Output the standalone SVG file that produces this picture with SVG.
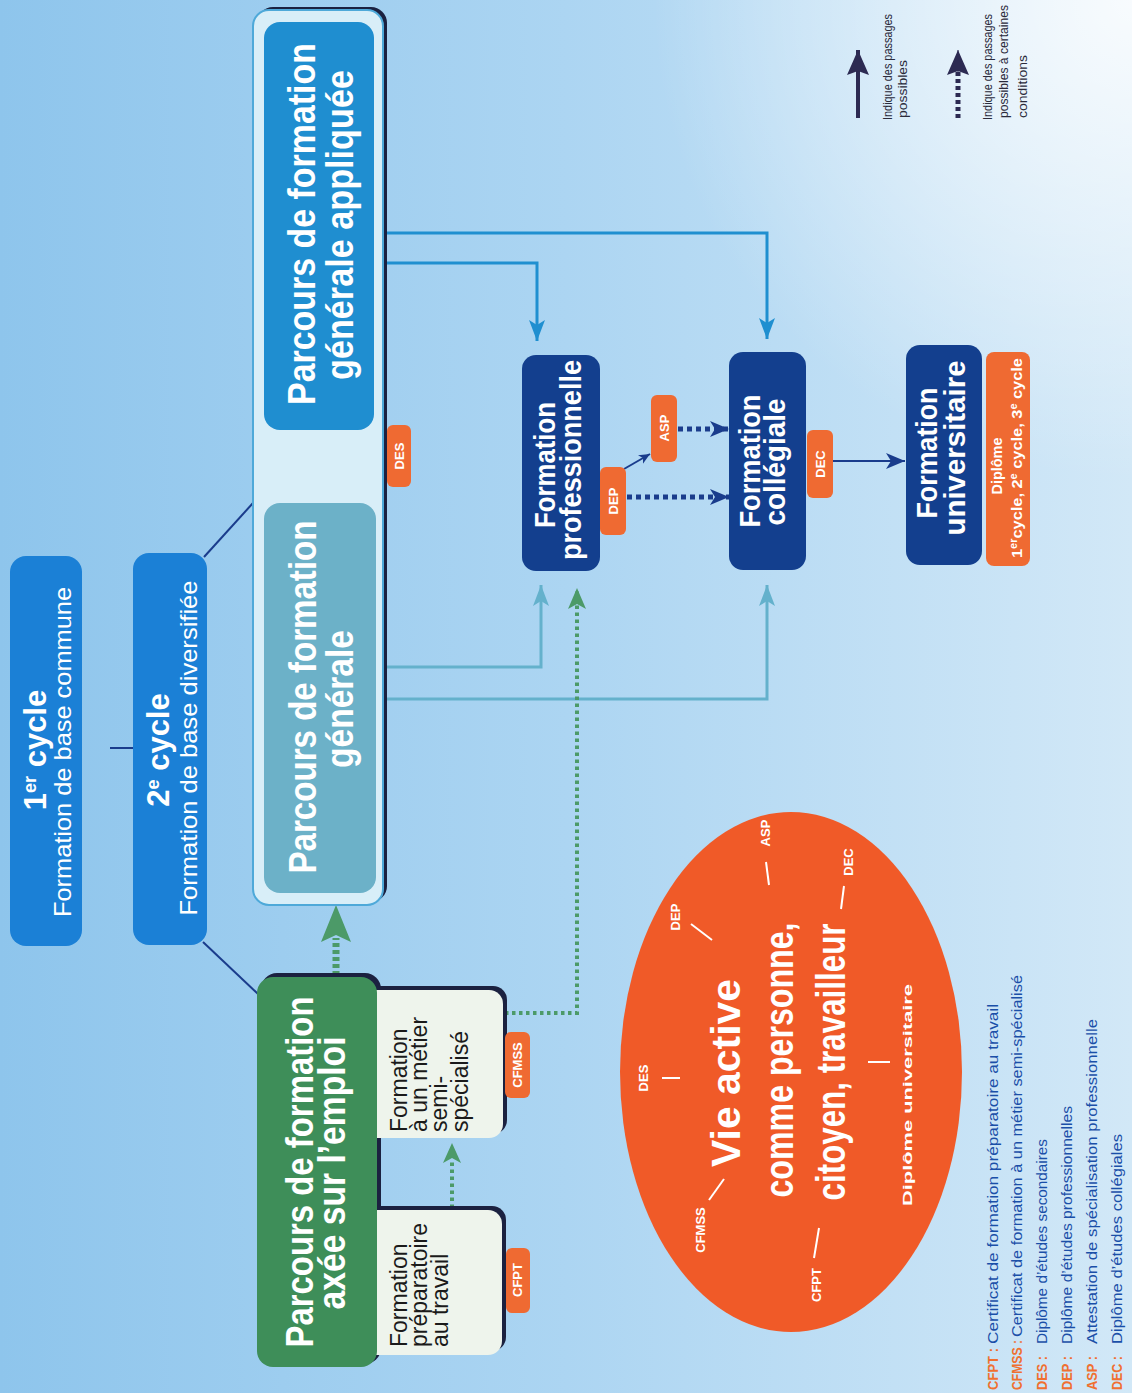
<svg xmlns="http://www.w3.org/2000/svg" width="1132" height="1393" viewBox="0 0 1132 1393">
<defs>
<linearGradient id="bg" x1="0" y1="0" x2="1" y2="0">
<stop offset="0" stop-color="#8ec5ec"/>
<stop offset="0.5" stop-color="#acd5f2"/>
<stop offset="1" stop-color="#d2e8f7"/>
</linearGradient>
<radialGradient id="hl" cx="1132" cy="0" r="480" gradientUnits="userSpaceOnUse">
<stop offset="0" stop-color="#ffffff" stop-opacity="0.85"/>
<stop offset="1" stop-color="#ffffff" stop-opacity="0"/>
</radialGradient>
<marker id="hBlue" markerWidth="22" markerHeight="16" refX="21" refY="8" orient="auto" markerUnits="userSpaceOnUse"><path d="M0,0 L21,8 L0,16 L5,8 Z" fill="#1f8fd0"/></marker>
<marker id="hTeal" markerWidth="22" markerHeight="16" refX="21" refY="8" orient="auto" markerUnits="userSpaceOnUse"><path d="M0,0 L21,8 L0,16 L5,8 Z" fill="#64b1cc"/></marker>
<marker id="hGreen" markerWidth="22" markerHeight="18" refX="21" refY="9" orient="auto" markerUnits="userSpaceOnUse"><path d="M0,0 L21,9 L0,18 L5,9 Z" fill="#4c9a68"/></marker>
<marker id="hNavy" markerWidth="20" markerHeight="16" refX="19" refY="8" orient="auto" markerUnits="userSpaceOnUse"><path d="M0,0 L19,8 L0,16 L5,8 Z" fill="#1a3c8c"/></marker>
<marker id="hNavyS" markerWidth="12" markerHeight="10" refX="11" refY="5" orient="auto" markerUnits="userSpaceOnUse"><path d="M0,0 L11,5 L0,10 L3,5 Z" fill="#1a3c8c"/></marker>
<marker id="hLeg" markerWidth="26" markerHeight="22" refX="25" refY="11" orient="auto" markerUnits="userSpaceOnUse"><path d="M0,0 L25,11 L0,22 L4,11 Z" fill="#2c2a52"/></marker>
<style>
.t{font-family:"Liberation Sans Narrow","Liberation Sans",Arial,sans-serif;}
.b{font-weight:bold;}
.w{fill:#ffffff;}
.m{text-anchor:middle;}
.cyc{fill:#1b80d6;}
.navy{fill:#133f8e;}
.badge{fill:#ef6a32;}
.bt{font-family:"Liberation Sans Narrow","Liberation Sans",Arial,sans-serif;font-weight:bold;font-size:13px;fill:#ffffff;text-anchor:middle;}
.shadow{fill:#1b2140;}
.sub{fill:#eef4ec;}
.st{font-family:"Liberation Sans Narrow","Liberation Sans",Arial,sans-serif;font-size:23px;fill:#1a1a1a;}
.ol{font-family:"Liberation Sans Narrow","Liberation Sans",Arial,sans-serif;font-weight:bold;font-size:13px;fill:#ffffff;text-anchor:middle;}
.tick{stroke:#ffffff;stroke-width:2;fill:none;}
.cBlue{stroke:#1f8fd0;stroke-width:3;fill:none;}
.cTeal{stroke:#64b1cc;stroke-width:3;fill:none;}
.cNavy{stroke:#1a3c8c;stroke-width:2;fill:none;}
.cGreenDot{stroke:#4c9a68;stroke-width:4;stroke-dasharray:3.5 3.5;fill:none;}
.cNavyDot{stroke:#1a3c8c;stroke-width:5;stroke-dasharray:5 4;fill:none;}
.lab{font-family:"Liberation Sans Narrow","Liberation Sans",Arial,sans-serif;font-weight:bold;font-size:15px;fill:#f07030;}
.desc{font-family:"Liberation Sans Narrow","Liberation Sans",Arial,sans-serif;font-size:15px;fill:#1a4fa8;}
.leg{font-family:"Liberation Sans Narrow","Liberation Sans",Arial,sans-serif;font-size:12.5px;fill:#2a2a3a;}
</style>
</defs>

<rect x="0" y="0" width="1132" height="1393" fill="url(#bg)"/>
<rect x="0" y="0" width="1132" height="1393" fill="url(#hl)"/>

<g id="connectors">
<path class="cNavy" d="M110 748 H133"/>
<path class="cNavy" d="M204 557 L253 503"/>
<path class="cNavy" d="M203 942 L258 994"/>
<path class="cBlue" d="M374 233 H767 V339" marker-end="url(#hBlue)"/>
<path class="cBlue" d="M374 263 H537 V341" marker-end="url(#hBlue)"/>
<path class="cTeal" d="M377 667 H541 V585" marker-end="url(#hTeal)"/>
<path class="cTeal" d="M377 699 H767 V585" marker-end="url(#hTeal)"/>
<rect x="316" y="452" width="7" height="51" fill="#7fbfd2"/>
<polygon points="319.5,430 331,463 319.5,456 308,463" fill="#7fbfd2"/>
<rect x="354" y="430" width="7" height="46" fill="#1f8fd0"/>
<polygon points="357.5,501 369,468 357.5,475 346,468" fill="#1f8fd0"/>
<path d="M336 975 V938" stroke="#4c9a68" stroke-width="7" stroke-dasharray="4 3" fill="none"/>
<polygon points="336,905 351,942 336,935 321,942" fill="#4c9a68"/>
<path class="cGreenDot" d="M452 1208 V1160"/>
<polygon points="452,1143 461,1163 452,1158 443,1163" fill="#4c9a68"/>
<path class="cGreenDot" d="M505 1013 H577 V588" marker-end="url(#hGreen)"/>
<path class="cNavy" d="M624 469 L650 454" marker-end="url(#hNavyS)"/>
<path class="cNavyDot" d="M678 429 H729" marker-end="url(#hNavy)"/>
<path class="cNavyDot" d="M627 497 H729" marker-end="url(#hNavy)"/>
<path class="cNavy" stroke-width="3" d="M833 461 H905" marker-end="url(#hNavy)"/>
</g>

<g id="cycle1">
<rect class="cyc" x="10" y="556" width="72" height="390" rx="16"/>
<text class="t b w m" x="46" y="750" transform="rotate(-90 46 750)" font-size="31">1<tspan font-size="18" baseline-shift="super">er</tspan> cycle</text>
<text class="t w m" x="71" y="752" transform="rotate(-90 71 752)" font-size="24" textLength="330" lengthAdjust="spacingAndGlyphs">Formation de base commune</text>
</g>

<g id="cycle2">
<rect class="cyc" x="133" y="553" width="74" height="392" rx="16"/>
<text class="t b w m" x="169" y="750" transform="rotate(-90 169 750)" font-size="31">2<tspan font-size="18" baseline-shift="super">e</tspan> cycle</text>
<text class="t w m" x="197" y="748" transform="rotate(-90 197 748)" font-size="24" textLength="335" lengthAdjust="spacingAndGlyphs">Formation de base diversifiée</text>
</g>

<g id="frame">
<rect class="shadow" x="257" y="7" width="130" height="895" rx="16"/>
<rect x="253" y="10" width="130" height="895" rx="16" fill="#d8eef8" stroke="#4ea9d9" stroke-width="2"/>
</g>

<g id="appliquee">
<rect x="264" y="22" width="110" height="408" rx="16" fill="#1f8ed0"/>
<text class="t b w m" x="315" y="224" transform="rotate(-90 315 224)" font-size="38" textLength="362" lengthAdjust="spacingAndGlyphs">Parcours de formation</text>
<text class="t b w m" x="353" y="225" transform="rotate(-90 353 225)" font-size="38" textLength="310" lengthAdjust="spacingAndGlyphs">générale appliquée</text>
</g>

<g id="des">
<rect class="badge" x="387" y="425" width="24" height="62" rx="6"/>
<text class="bt" x="404" y="456" transform="rotate(-90 404 456)">DES</text>
</g>

<g id="generale">
<rect x="264" y="503" width="112" height="390" rx="16" fill="#6cb1c8"/>
<text class="t b w m" x="316" y="697" transform="rotate(-90 316 697)" font-size="38" textLength="353" lengthAdjust="spacingAndGlyphs">Parcours de formation</text>
<text class="t b w m" x="353" y="699" transform="rotate(-90 353 699)" font-size="38" textLength="138" lengthAdjust="spacingAndGlyphs">générale</text>
</g>

<g id="emploi">
<rect class="shadow" x="261" y="973" width="120" height="391" rx="16"/>
<g id="metier">
<rect class="shadow" x="364" y="986" width="143" height="148" rx="14"/>
<rect class="sub" x="360" y="990" width="143" height="148" rx="14"/>
<text class="st" x="407" y="1132" transform="rotate(-90 407 1132)">Formation</text>
<text class="st" x="427" y="1132" transform="rotate(-90 427 1132)">à un métier</text>
<text class="st" x="447" y="1132" transform="rotate(-90 447 1132)">semi-</text>
<text class="st" x="468" y="1132" transform="rotate(-90 468 1132)">spécialisé</text>
</g>
<g id="preparatoire">
<rect class="shadow" x="364" y="1206" width="142" height="145" rx="14"/>
<rect class="sub" x="360" y="1210" width="142" height="145" rx="14"/>
<text class="st" x="407" y="1347" transform="rotate(-90 407 1347)">Formation</text>
<text class="st" x="427" y="1347" transform="rotate(-90 427 1347)">préparatoire</text>
<text class="st" x="448" y="1347" transform="rotate(-90 448 1347)">au travail</text>
</g>
<rect x="257" y="977" width="120" height="390" rx="16" fill="#3e8e59"/>
<text class="t b w m" x="313" y="1172" transform="rotate(-90 313 1172)" font-size="38" textLength="351" lengthAdjust="spacingAndGlyphs">Parcours de formation</text>
<text class="t b w m" x="345" y="1173" transform="rotate(-90 345 1173)" font-size="38" textLength="273" lengthAdjust="spacingAndGlyphs">axée sur l’emploi</text>
</g>

<g id="cfmss">
<rect class="badge" x="505" y="1032" width="25" height="66" rx="6"/>
<text class="bt" x="522" y="1065" transform="rotate(-90 522 1065)">CFMSS</text>
</g>
<g id="cfpt">
<rect class="badge" x="506" y="1248" width="24" height="65" rx="6"/>
<text class="bt" x="522" y="1280" transform="rotate(-90 522 1280)">CFPT</text>
</g>

<g id="professionnelle">
<rect class="navy" x="522" y="355" width="78" height="216" rx="14"/>
<text class="t b w m" x="555" y="465" transform="rotate(-90 555 465)" font-size="30" textLength="126" lengthAdjust="spacingAndGlyphs">Formation</text>
<text class="t b w m" x="581" y="460" transform="rotate(-90 581 460)" font-size="30" textLength="200" lengthAdjust="spacingAndGlyphs">professionnelle</text>
</g>
<g id="dep">
<rect class="badge" x="600" y="467" width="26" height="68" rx="6"/>
<text class="bt" x="618" y="501" transform="rotate(-90 618 501)">DEP</text>
</g>
<g id="asp">
<rect class="badge" x="651" y="395" width="26" height="67" rx="6"/>
<text class="bt" x="669" y="428" transform="rotate(-90 669 428)">ASP</text>
</g>

<g id="collegiale">
<rect class="navy" x="729" y="352" width="77" height="218" rx="14"/>
<text class="t b w m" x="760" y="461" transform="rotate(-90 760 461)" font-size="30" textLength="133" lengthAdjust="spacingAndGlyphs">Formation</text>
<text class="t b w m" x="785" y="462" transform="rotate(-90 785 462)" font-size="30" textLength="127" lengthAdjust="spacingAndGlyphs">collégiale</text>
</g>
<g id="dec">
<rect class="badge" x="807" y="430" width="26" height="68" rx="6"/>
<text class="bt" x="825" y="464" transform="rotate(-90 825 464)">DEC</text>
</g>

<g id="universitaire">
<rect class="navy" x="906" y="345" width="76" height="220" rx="14"/>
<text class="t b w m" x="937" y="453" transform="rotate(-90 937 453)" font-size="30" textLength="131" lengthAdjust="spacingAndGlyphs">Formation</text>
<text class="t b w m" x="965" y="448" transform="rotate(-90 965 448)" font-size="30" textLength="175" lengthAdjust="spacingAndGlyphs">universitaire</text>
</g>
<g id="diplome">
<rect class="badge" x="986" y="352" width="44" height="214" rx="8"/>
<text class="t b w m" x="1002" y="466" transform="rotate(-90 1002 466)" font-size="14" textLength="57" lengthAdjust="spacingAndGlyphs">Diplôme</text>
<text class="t b w m" x="1022" y="458" transform="rotate(-90 1022 458)" font-size="15" textLength="200" lengthAdjust="spacingAndGlyphs">1<tspan font-size="10" baseline-shift="super">er</tspan>cycle, 2<tspan font-size="10" baseline-shift="super">e</tspan> cycle, 3<tspan font-size="10" baseline-shift="super">e</tspan> cycle</text>
</g>

<g id="vie-active">
<ellipse cx="791" cy="1072" rx="171" ry="260" fill="#f05a28"/>
<text class="t b w m" x="740" y="1073" transform="rotate(-90 740 1073)" font-size="40" textLength="188" lengthAdjust="spacingAndGlyphs">Vie active</text>
<text class="t b w m" x="793" y="1060" transform="rotate(-90 793 1060)" font-size="40" textLength="275" lengthAdjust="spacingAndGlyphs">comme personne,</text>
<text class="t b w m" x="845" y="1062" transform="rotate(-90 845 1062)" font-size="40" textLength="277" lengthAdjust="spacingAndGlyphs">citoyen, travailleur</text>
<text class="ol" x="648" y="1078" transform="rotate(-90 648 1078)">DES</text>
<path class="tick" d="M662 1078 H680"/>
<text class="ol" x="680" y="917" transform="rotate(-90 680 917)">DEP</text>
<path class="tick" d="M691 924 L712 940"/>
<text class="ol" x="770" y="833" transform="rotate(-90 770 833)">ASP</text>
<path class="tick" d="M766 862 L769 885"/>
<text class="ol" x="853" y="862" transform="rotate(-90 853 862)">DEC</text>
<path class="tick" d="M844 886 L841 909"/>
<text class="ol" x="705" y="1230" transform="rotate(-90 705 1230)">CFMSS</text>
<path class="tick" d="M709 1200 L724 1179"/>
<text class="ol" x="821" y="1285" transform="rotate(-90 821 1285)">CFPT</text>
<path class="tick" d="M819 1228 L814 1258"/>
<text class="ol" x="912" y="1095" transform="rotate(-90 912 1095)" font-size="14" textLength="222" lengthAdjust="spacingAndGlyphs">Diplôme universitaire</text>
<path class="tick" d="M868 1062 H890"/>
</g>

<g id="legend-arrows">
<path d="M858 118 V50" stroke="#2c2a52" stroke-width="4" fill="none" marker-end="url(#hLeg)"/>
<text class="leg" x="892" y="120" transform="rotate(-90 892 120)" font-size="10" textLength="106" lengthAdjust="spacingAndGlyphs">Indique des passages</text>
<text class="leg" x="907" y="118" transform="rotate(-90 907 118)" textLength="58" lengthAdjust="spacingAndGlyphs">possibles</text>
<path d="M958 118 V72" stroke="#2c2a52" stroke-width="5" stroke-dasharray="4 3" fill="none"/>
<path d="M958 75 V50" stroke="#2c2a52" stroke-width="1" fill="none" marker-end="url(#hLeg)"/>
<text class="leg" x="992" y="120" transform="rotate(-90 992 120)" font-size="10" textLength="106" lengthAdjust="spacingAndGlyphs">Indique des passages</text>
<text class="leg" x="1008" y="118" transform="rotate(-90 1008 118)" font-size="11.4" textLength="113" lengthAdjust="spacingAndGlyphs">possibles à certaines</text>
<text class="leg" x="1027" y="118" transform="rotate(-90 1027 118)" textLength="63" lengthAdjust="spacingAndGlyphs">conditions</text>
</g>

<g id="legend-abbr">
<text class="lab" x="998" y="1390" transform="rotate(-90 998 1390)" textLength="42" lengthAdjust="spacingAndGlyphs">CFPT :</text>
<text class="desc" x="998" y="1344" transform="rotate(-90 998 1344)" textLength="340" lengthAdjust="spacingAndGlyphs">Certificat de formation préparatoire au travail</text>
<text class="lab" x="1022" y="1390" transform="rotate(-90 1022 1390)" textLength="50" lengthAdjust="spacingAndGlyphs">CFMSS :</text>
<text class="desc" x="1022" y="1337" transform="rotate(-90 1022 1337)" textLength="362" lengthAdjust="spacingAndGlyphs">Certificat de formation à un métier semi-spécialisé</text>
<text class="lab" x="1047" y="1390" transform="rotate(-90 1047 1390)" textLength="34" lengthAdjust="spacingAndGlyphs">DES :</text>
<text class="desc" x="1047" y="1344" transform="rotate(-90 1047 1344)" textLength="205" lengthAdjust="spacingAndGlyphs">Diplôme d’études secondaires</text>
<text class="lab" x="1072" y="1390" transform="rotate(-90 1072 1390)" textLength="34" lengthAdjust="spacingAndGlyphs">DEP :</text>
<text class="desc" x="1072" y="1344" transform="rotate(-90 1072 1344)" textLength="238" lengthAdjust="spacingAndGlyphs">Diplôme d’études professionnelles</text>
<text class="lab" x="1097" y="1390" transform="rotate(-90 1097 1390)" textLength="34" lengthAdjust="spacingAndGlyphs">ASP :</text>
<text class="desc" x="1097" y="1344" transform="rotate(-90 1097 1344)" textLength="325" lengthAdjust="spacingAndGlyphs">Attestation de spécialisation professionnelle</text>
<text class="lab" x="1122" y="1390" transform="rotate(-90 1122 1390)" textLength="34" lengthAdjust="spacingAndGlyphs">DEC :</text>
<text class="desc" x="1122" y="1344" transform="rotate(-90 1122 1344)" textLength="210" lengthAdjust="spacingAndGlyphs">Diplôme d’études collégiales</text>
</g>
</svg>
